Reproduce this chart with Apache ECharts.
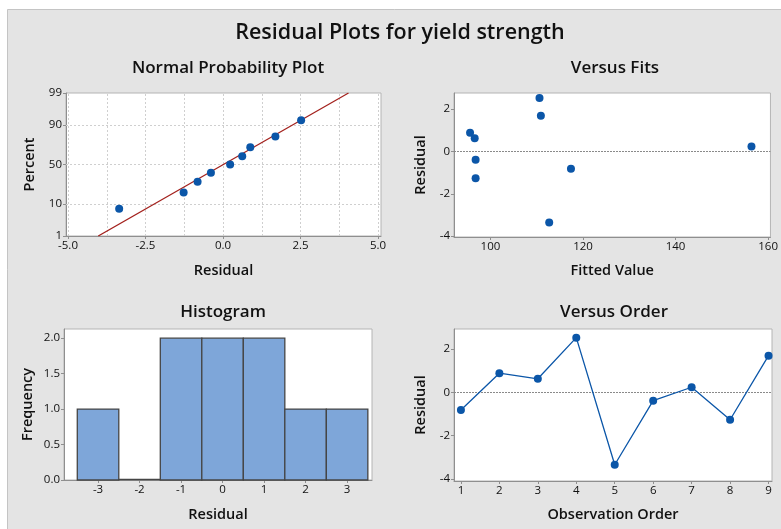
<!DOCTYPE html>
<html><head><meta charset="utf-8">
<script src="https://cdn.jsdelivr.net/npm/echarts@6/dist/echarts.min.js"></script>
<style>html,body{margin:0;padding:0;background:#fff}#c{width:781px;height:529px}</style>
</head><body><div id="c"></div>
<script>
// ---------- data ----------
const mainTitle = 'Residual Plots for yield strength';
const panelTitles = ['Normal Probability Plot', 'Versus Fits', 'Histogram', 'Versus Order'];
const observationOrder = [1, 2, 3, 4, 5, 6, 7, 8, 9];
const residuals = [-0.82, 0.88, 0.62, 2.52, -3.35, -0.39, 0.23, -1.27, 1.69];
const fittedValues = [117.4, 95.6, 96.6, 110.6, 112.7, 96.8, 156.4, 96.8, 110.9];
const histBinCenters = [-3, -2, -1, 0, 1, 2, 3];
const histFrequency = [1, 0, 2, 2, 2, 1, 1];
const histBinWidth = 1;
const nppPercentTicks = [1, 10, 50, 90, 99];
const nppResidualTicks = [-5, -2.5, 0, 2.5, 5];
const nppGridResidual = [-5, -3.75, -2.5, -1.25, 0, 1.25, 2.5, 3.75, 5];
const nppGridPercent = [10, 50, 90];
const fitsTicks = [100, 120, 140, 160];
const residualTicks = [-4, -2, 0, 2];
const histFreqTicks = [0, 0.5, 1, 1.5, 2];
const histResidualTicks = [-3, -2, -1, 0, 1, 2, 3];

// ---------- helpers ----------
function normInv(p) {
  const a = [-3.969683028665376e+01, 2.209460984245205e+02, -2.759285104469687e+02, 1.383577518672690e+02, -3.066479806614716e+01, 2.506628277459239e+00];
  const b = [-5.447609879822406e+01, 1.615858368580409e+02, -1.556989798598866e+02, 6.680131188771972e+01, -1.328068155288572e+01];
  const c = [-7.784894002430293e-03, -3.223964580411365e-01, -2.400758277161838e+00, -2.549732539343734e+00, 4.374664141464968e+00, 2.938163982698783e+00];
  const d = [7.784695709041462e-03, 3.224671290700398e-01, 2.445134137142996e+00, 3.754408661907416e+00];
  const pl = 0.02425, ph = 1 - pl;
  let q, r;
  if (p < pl) { q = Math.sqrt(-2 * Math.log(p)); return (((((c[0]*q+c[1])*q+c[2])*q+c[3])*q+c[4])*q+c[5]) / ((((d[0]*q+d[1])*q+d[2])*q+d[3])*q+1); }
  if (p <= ph) { q = p - 0.5; r = q*q; return (((((a[0]*r+a[1])*r+a[2])*r+a[3])*r+a[4])*r+a[5])*q / (((((b[0]*r+b[1])*r+b[2])*r+b[3])*r+b[4])*r+1); }
  q = Math.sqrt(-2 * Math.log(1 - p)); return -(((((c[0]*q+c[1])*q+c[2])*q+c[3])*q+c[4])*q+c[5]) / ((((d[0]*q+d[1])*q+d[2])*q+d[3])*q+1);
}
const n = residuals.length;
const sortedRes = residuals.slice().sort((x, y) => x - y);
const nppPoints = sortedRes.map((v, i) => [v, normInv((i + 1 - 0.3) / (n + 0.4))]);
const mean = residuals.reduce((s, v) => s + v, 0) / n;
const sd = Math.sqrt(residuals.reduce((s, v) => s + (v - mean) ** 2, 0) / (n - 1));
const zMin = normInv(nppPercentTicks[0] / 100), zMax = normInv(nppPercentTicks[nppPercentTicks.length - 1] / 100);
const nppLine = [[mean + sd * zMin, zMin], [mean + sd * zMax, zMax]];
const nppZTicks = nppPercentTicks.map(p => normInv(p / 100));

// ---------- styles ----------
const FONT = 'Open Sans';
const TXT = '#111111';
const BLUE = '#0b56a8';
const axisLine = {show: true, onZero: false, lineStyle: {color: '#8f8f8f', width: 1}};
const lbl = (vals, extra) => Object.assign({show: true, customValues: vals, fontFamily: FONT, fontSize: 11.5, color: TXT, margin: 4}, extra || {});
const tick = (vals) => ({show: true, customValues: vals, length: 3, lineStyle: {color: '#8f8f8f'}});
const nameStyle = {fontFamily: FONT, fontSize: 14.5, fontWeight: 600, color: TXT};
const grids = [
  {left: 66, top: 93, width: 315, height: 143},
  {left: 454, top: 93, width: 318, height: 144},
  {left: 64, top: 329, width: 308, height: 151},
  {left: 454, top: 329, width: 318, height: 152}
].map(g => Object.assign({show: true, backgroundColor: '#ffffff', borderColor: '#b4b4b4', borderWidth: 1}, g));

function ax(gi, min, max, ticks, name, gap, fmt) {
  return {type: 'value', gridIndex: gi, min, max, axisLine, axisTick: tick(ticks),
    axisLabel: lbl(ticks, fmt ? {formatter: fmt} : {}), splitLine: {show: false},
    name, nameLocation: 'middle', nameGap: gap, nameTextStyle: nameStyle};
}
const fmt1 = v => (Math.round(v * 10) / 10).toFixed(1);
const pctFmt = v => { let best = 0; nppZTicks.forEach((z, i) => { if (Math.abs(z - v) < Math.abs(nppZTicks[best] - v)) best = i; }); return String(nppPercentTicks[best]); };
const zeroLine = {silent: true, z: 1, symbol: 'none', label: {show: false}, animation: false,
  lineStyle: {color: '#8a8a8a', type: [2, 1], width: 1}, data: [{yAxis: 0}]};

const titleStyle = (sz) => ({fontFamily: FONT, fontSize: sz, fontWeight: 600, color: TXT});
const option = {
  animation: false,
  backgroundColor: '#ffffff',
  graphic: [{type: 'rect', shape: {x: 7.5, y: 9.5, width: 780, height: 525}, style: {fill: '#e4e4e4', stroke: '#c4c4c4', lineWidth: 1}, z: -10}],
  title: [
    {text: mainTitle, left: 400, top: 22, textAlign: 'center', padding: 0, textStyle: titleStyle(21.5)},
    {text: panelTitles[0], left: 228, top: 60, textAlign: 'center', padding: 0, textStyle: titleStyle(17)},
    {text: panelTitles[1], left: 615, top: 60, textAlign: 'center', padding: 0, textStyle: titleStyle(17)},
    {text: panelTitles[2], left: 223, top: 304, textAlign: 'center', padding: 0, textStyle: titleStyle(17)},
    {text: panelTitles[3], left: 614, top: 304, textAlign: 'center', padding: 0, textStyle: titleStyle(17)}
  ],
  grid: grids,
  xAxis: [
    ax(0, -5.065, 5.097, nppResidualTicks, 'Residual', 27, fmt1),
    ax(1, 92.13, 160.5, fitsTicks, 'Fitted Value', 26),
    ax(2, -3.82, 3.6, histResidualTicks, 'Residual', 27),
    ax(3, 0.82, 9.09, observationOrder, 'Observation Order', 26)
  ],
  yAxis: [
    ax(0, zMin, zMax, nppZTicks, 'Percent', 29, pctFmt),
    ax(1, -4.04, 2.76, residualTicks, 'Residual', 26),
    ax(2, 0, 2.13, histFreqTicks, 'Frequency', 29, fmt1),
    ax(3, -4.1, 2.92, residualTicks, 'Residual', 26)
  ],
  series: [
    {type: 'scatter', xAxisIndex: 0, yAxisIndex: 0, data: [], silent: true, z: 1,
      markLine: {silent: true, z: 1, symbol: 'none', label: {show: false}, animation: false,
        lineStyle: {color: '#cfcfcf', type: [2, 2], width: 1},
        data: nppGridResidual.map(v => ({xAxis: v})).concat(nppGridPercent.map(p => ({yAxis: normInv(p / 100)})))}},
    {type: 'line', xAxisIndex: 0, yAxisIndex: 0, data: nppLine, symbol: 'none', z: 2,
      lineStyle: {color: '#a3201c', width: 1.3}},
    {type: 'scatter', xAxisIndex: 0, yAxisIndex: 0, data: nppPoints, symbolSize: 8, z: 3,
      itemStyle: {color: BLUE, opacity: 1}},
    {type: 'scatter', xAxisIndex: 1, yAxisIndex: 1, data: fittedValues.map((f, i) => [f, residuals[i]]), symbolSize: 8, z: 3,
      itemStyle: {color: BLUE, opacity: 1}, markLine: zeroLine},
    {type: 'custom', xAxisIndex: 2, yAxisIndex: 2, z: 3, clip: false, data: histBinCenters.map((c, i) => [c, histFrequency[i]]),
      renderItem: (params, api) => {
        const x = api.value(0), y = api.value(1);
        const p0 = api.coord([x - histBinWidth / 2, 0]), p1 = api.coord([x + histBinWidth / 2, y]);
        if (p0[1] - p1[1] < 0.5) {
          return {type: 'line', shape: {x1: p0[0], y1: p0[1] - 0.5, x2: p1[0], y2: p0[1] - 0.5}, style: {stroke: '#454545', lineWidth: 1.5}};
        }
        return {type: 'rect', shape: {x: p0[0], y: p1[1], width: p1[0] - p0[0], height: p0[1] - p1[1]},
          style: {fill: '#7ea6d9', stroke: '#454545', lineWidth: 1.3}};
      }},
    {type: 'line', xAxisIndex: 3, yAxisIndex: 3, data: observationOrder.map((o, i) => [o, residuals[i]]),
      symbol: 'circle', symbolSize: 8, z: 3,
      lineStyle: {color: BLUE, width: 1.3}, itemStyle: {color: BLUE}, markLine: zeroLine}
  ]
};
const chart = echarts.init(document.getElementById('c'), null, {renderer: 'canvas'});
chart.setOption(option);
</script></body></html>
